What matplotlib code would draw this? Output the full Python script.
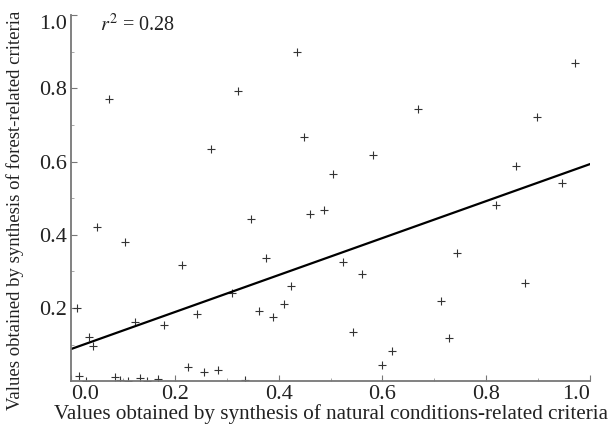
import numpy as np
import matplotlib.pyplot as plt

# values
natural = [0.015, 0.029, 0.085, 0.094, 0.110, 0.133, 0.146, 0.168, 0.335, 0.226,
           0.257, 0.284, 0.074, 0.436, 0.322, 0.448, 0.269, 0.669, 0.582, 0.505,
           0.971, 0.898, 0.857, 0.947, 0.818, 0.050, 0.105, 0.213, 0.011, 0.243,
           0.123, 0.180, 0.034, 0.042, 0.347, 0.461, 0.487, 0.375, 0.424, 0.310,
           0.410, 0.363, 0.390, 0.525, 0.560, 0.744, 0.713, 0.543, 0.729, 0.618,
           0.600, 0.875]
forest = [0.015, 0.002, 0.013, 0.004, 0.002, 0.010, 0.002, 0.006, 0.004, 0.040,
          0.026, 0.031, 0.770, 0.900, 0.793, 0.668, 0.633, 0.743, 0.617, 0.567,
          0.870, 0.722, 0.587, 0.541, 0.482, 0.422, 0.381, 0.317, 0.201, 0.185,
          0.162, 0.153, 0.122, 0.097, 0.443, 0.456, 0.468, 0.337, 0.260, 0.242,
          0.211, 0.193, 0.176, 0.327, 0.294, 0.349, 0.220, 0.134, 0.117, 0.083,
          0.044, 0.269]

# regression line as drawn in the figure
fit_intercept = 0.088
fit_slope = 0.505
r_squared = 0.28

x_ticks = [0.0, 0.2, 0.4, 0.6, 0.8, 1.0]
y_ticks = [0.2, 0.4, 0.6, 0.8, 1.0]

plt.rcParams['font.family'] = ['Liberation Serif', 'DejaVu Serif']
plt.rcParams['mathtext.fontset'] = 'stix'

fig = plt.figure(figsize=(6.16, 4.26), dpi=100)
ax = fig.add_axes([71 / 616, 44.7 / 426, 519 / 616, 366.3 / 426])

ax.plot(natural, forest, linestyle='none', marker='+', markersize=6,
        markeredgewidth=0.8, color='#333333')

xs = np.array([0.0, 1.0])
ax.plot(xs, fit_intercept + fit_slope * xs, color='black', linewidth=1.6)

ax.text(0.056, 0.973, r'$r^2$ = %.2f' % r_squared, fontsize=14.5, va='center',
        ha='left', color='#222222')

ax.set_xlim(0, 1.0)
ax.set_ylim(0, 1.0)
ax.set_xticks(x_ticks)
ax.set_yticks(y_ticks)
ax.set_xticks(np.arange(0.1, 1.0, 0.2), minor=True)
ax.set_yticks(np.arange(0.1, 1.0, 0.2), minor=True)
ax.set_xticklabels(['%.1f' % v for v in x_ticks])
ax.set_yticklabels(['%.1f' % v for v in y_ticks])

for side in ['top', 'right']:
    ax.spines[side].set_visible(False)
for side in ['left', 'bottom']:
    ax.spines[side].set_color('#777777')
    ax.spines[side].set_linewidth(1.3)

ax.tick_params(which='major', direction='in', length=4, width=0.8,
               colors='#777777', labelcolor='#222222', labelsize=16, pad=3)
ax.tick_params(which='minor', direction='in', length=2, width=0.6,
               colors='#999999')

xl = ax.get_xticklabels()
xl[0].set_ha('left')
xl[-1].set_ha('right')
yl = ax.get_yticklabels()
yl[-1].set_va('top')

ax.set_xlabel('Values obtained by synthesis of natural conditions-related criteria',
              fontsize=15.2, color='#222222')
ax.set_ylabel('Values obtained by synthesis of forest-related criteria',
              fontsize=13.5, color='#222222')
ax.xaxis.set_label_coords(0.5, -0.062)
ax.yaxis.set_label_coords(-0.09, 0.466)

fig.savefig('out.png', dpi=100)
